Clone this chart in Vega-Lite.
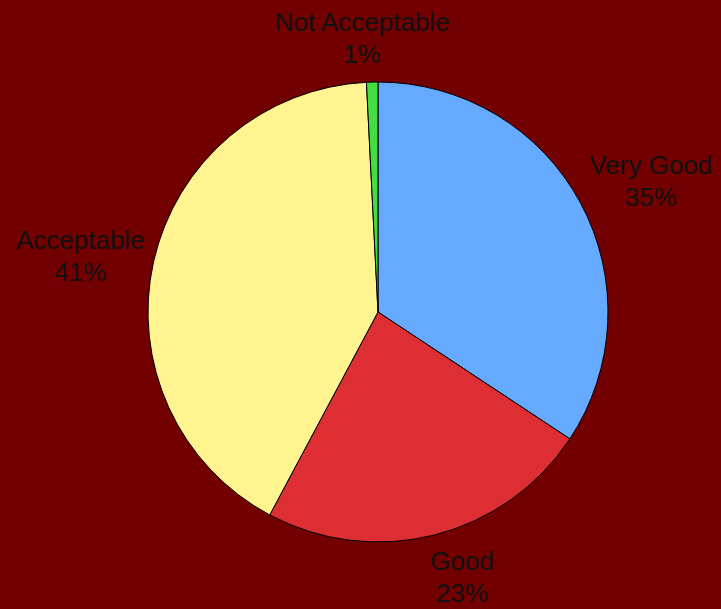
{
  "$schema": "https://vega.github.io/schema/vega-lite/v6.json",
  "width": 700,
  "height": 600,
  "autosize": "none",
  "padding": {"left": 28, "top": 12, "right": 0, "bottom": 0},
  "background": "#720000",
  "view": {"stroke": null},
  "data": {"values": [
    {"category": "Very Good", "share": 34.3, "label": "Very Good\n35%", "rank": 1},
    {"category": "Good", "share": 23.5, "label": "Good\n23%", "rank": 2},
    {"category": "Acceptable", "share": 41.4, "label": "Acceptable\n41%", "rank": 3},
    {"category": "Not Acceptable", "share": 0.8, "label": "Not Acceptable\n1%", "rank": 4}
  ]},
  "encoding": {
    "theta": {"field": "share", "type": "quantitative", "stack": true},
    "order": {"field": "rank", "type": "quantitative"}
  },
  "layer": [
    {
      "mark": {"type": "arc", "outerRadius": 230, "stroke": "#000000", "strokeWidth": 1},
      "encoding": {
        "color": {
          "field": "category", "type": "nominal", "legend": null,
          "scale": {"domain": ["Very Good", "Good", "Acceptable", "Not Acceptable"],
                    "range": ["#66aaff", "#dd2e33", "#fff48f", "#44dd44"]}
        }
      }
    },
    {
      "mark": {"type": "text", "radius": 303, "dx": 6, "dy": -3, "lineBreak": "\n", "lineHeight": 32, "font": "Liberation Sans", "fontSize": 26, "color": "#111111", "baseline": "middle", "align": "center"},
      "encoding": {"text": {"condition": {"test": "datum.category === 'Very Good'", "field": "label"}, "value": ""}}
    },
    {
      "mark": {"type": "text", "radius": 277, "dx": 16, "dy": -19, "lineBreak": "\n", "lineHeight": 32, "font": "Liberation Sans", "fontSize": 26, "color": "#111111", "baseline": "middle", "align": "center"},
      "encoding": {"text": {"condition": {"test": "datum.category === 'Good'", "field": "label"}, "value": ""}}
    },
    {
      "mark": {"type": "text", "radius": 303, "dx": -2, "dy": -5, "lineBreak": "\n", "lineHeight": 32, "font": "Liberation Sans", "fontSize": 26, "color": "#111111", "baseline": "middle", "align": "center"},
      "encoding": {"text": {"condition": {"test": "datum.category === 'Acceptable'", "field": "label"}, "value": ""}}
    },
    {
      "mark": {"type": "text", "radius": 273, "dx": -9, "dy": -16, "lineBreak": "\n", "lineHeight": 32, "font": "Liberation Sans", "fontSize": 26, "color": "#111111", "baseline": "middle", "align": "center"},
      "encoding": {"text": {"condition": {"test": "datum.category === 'Not Acceptable'", "field": "label"}, "value": ""}}
    }
  ]
}
